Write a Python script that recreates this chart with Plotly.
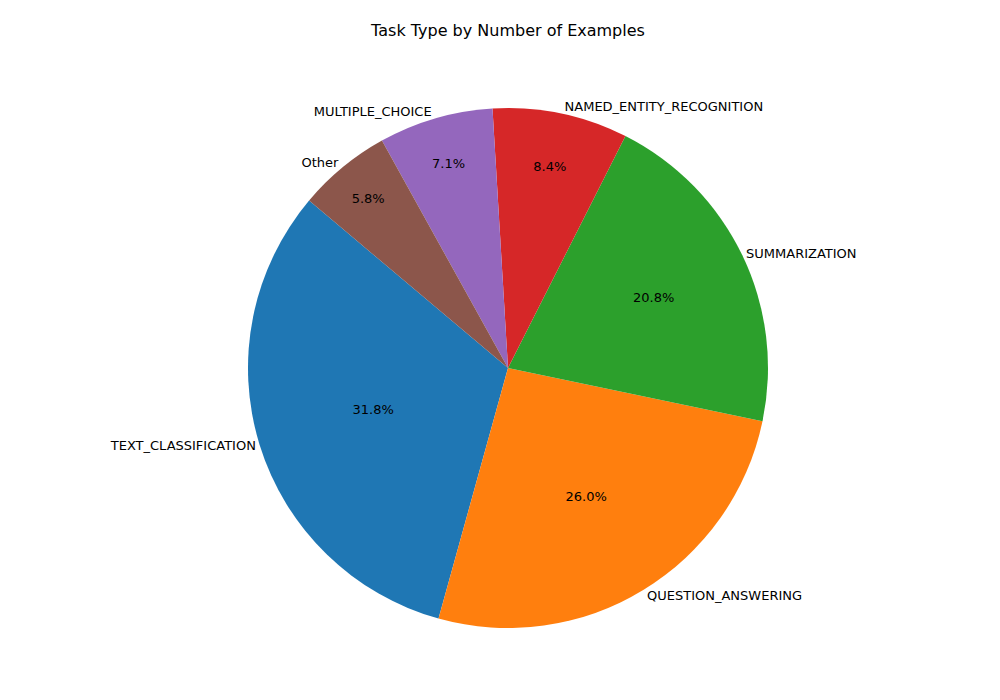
import plotly.graph_objects as go

labels = ["TEXT_CLASSIFICATION", "QUESTION_ANSWERING", "SUMMARIZATION",
          "NAMED_ENTITY_RECOGNITION", "MULTIPLE_CHOICE", "Other"]
values = [31.8, 26.0, 20.8, 8.4, 7.1, 5.8]
colors = ["#1f77b4", "#ff7f0e", "#2ca02c", "#d62728", "#9467bd", "#8c564b"]

dom = dict(x=[0.24, 0.76], y=[1 - 620/700, 1 - 100/700])
rot = -164.5
fig = go.Figure()
fig.add_trace(go.Pie(labels=labels, values=values, sort=False, direction="counterclockwise",
                     rotation=rot, domain=dom, marker=dict(colors=colors),
                     texttemplate="%{percent:.1%}", textposition="inside",
                     insidetextorientation="horizontal",
                     textfont=dict(color="black", size=13, family="DejaVu Sans"),
                     showlegend=False, hoverinfo="skip"))
fig.add_trace(go.Pie(labels=labels, values=values, sort=False, direction="counterclockwise",
                     rotation=rot, domain=dom,
                     marker=dict(colors=["rgba(0,0,0,0)"]*6),
                     textinfo="label", textposition="outside",
                     textfont=dict(color="black", size=13, family="DejaVu Sans"),
                     showlegend=False, hoverinfo="skip"))
fig.update_layout(width=1000, height=700, margin=dict(l=0, r=0, t=0, b=0),
                  paper_bgcolor="white", plot_bgcolor="white",
                  title=dict(text="Task Type by Number of Examples", x=0.5, y=1 - 22/700,
                             xanchor="center", yanchor="middle",
                             font=dict(size=16, color="black", family="DejaVu Sans")))
fig.write_html("out.html")
